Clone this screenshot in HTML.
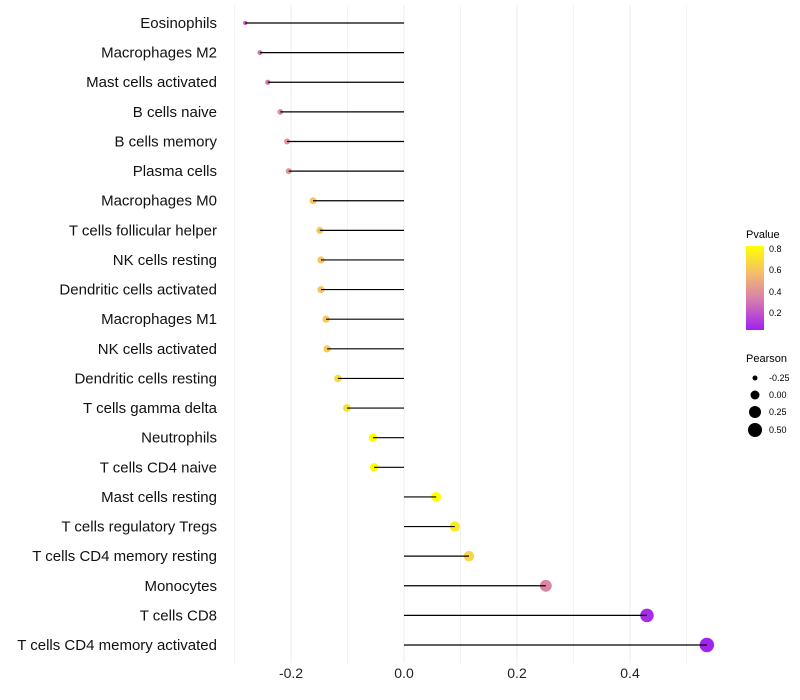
<!DOCTYPE html>
<html><head><meta charset="utf-8"><style>body{margin:0;background:#fff}svg{display:block;font-family:"Liberation Sans",sans-serif}</style></head>
<body>
<svg id="chart" width="800" height="700" viewBox="0 0 800 700">
<defs><linearGradient id="pg" x1="0" y1="1" x2="0" y2="0">
<stop offset="0" stop-color="#A020F0"/><stop offset="0.35" stop-color="#D67AB0"/><stop offset="0.68" stop-color="#F5BE6A"/><stop offset="1" stop-color="#FFFF00"/></linearGradient></defs>
<g id="grid"></g><g id="marks"></g><g id="labels"></g>
<g>
<text x="746" y="238" font-size="11">Pvalue</text>
<rect x="746" y="246" width="18" height="84" fill="url(#pg)"/>
<text x="769" y="252" font-size="9">0.8</text><text x="769" y="273" font-size="9">0.6</text>
<text x="769" y="295" font-size="9">0.4</text><text x="769" y="316" font-size="9">0.2</text>
</g>
<g>
<text x="746" y="362" font-size="11">Pearson</text>
<circle cx="755" cy="378" r="2.5"/><text x="769" y="381" font-size="9">-0.25</text>
<circle cx="755" cy="395" r="4.5"/><text x="769" y="398" font-size="9">0.00</text>
<circle cx="755" cy="412" r="6"/><text x="769" y="415" font-size="9">0.25</text>
<circle cx="755" cy="430" r="7"/><text x="769" y="433" font-size="9">0.50</text>
</g>
</svg>
<script>
const categories=["Eosinophils","Macrophages M2","Mast cells activated","B cells naive","B cells memory","Plasma cells","Macrophages M0","T cells follicular helper","NK cells resting","Dendritic cells activated","Macrophages M1","NK cells activated","Dendritic cells resting","T cells gamma delta","Neutrophils","T cells CD4 naive","Mast cells resting","T cells regulatory  Tregs ","T cells CD4 memory resting","Monocytes","T cells CD8","T cells CD4 memory activated"];
const pearson=[-0.281,-0.255,-0.241,-0.219,-0.207,-0.204,-0.161,-0.149,-0.147,-0.147,-0.138,-0.136,-0.117,-0.101,-0.055,-0.053,0.057,0.090,0.115,0.251,0.430,0.536];
const pvalue=[0.22,0.3,0.3,0.38,0.4,0.42,0.6,0.62,0.6,0.6,0.63,0.64,0.7,0.72,0.84,0.84,0.85,0.76,0.68,0.35,0.05,0.02];
const xTicks=[-0.2,0,0.2,0.4];
const xTickLabels=["-0.2","0.0","0.2","0.4"];
const NS="http://www.w3.org/2000/svg";
const x=v=>404+v*565;
const y=i=>23+i*29.62;
const stops=[[0,[160,32,240]],[0.35,[214,122,176]],[0.68,[245,190,106]],[1,[255,255,0]]];
function col(p){let t=Math.max(0,Math.min(1,(p-0.01)/0.84));for(let k=1;k<stops.length;k++){if(t<=stops[k][0]){const a=stops[k-1],b=stops[k],u=(t-a[0])/(b[0]-a[0]);return"rgb("+a[1].map((c,j)=>Math.round(c+(b[1][j]-c)*u)).join(",")+")";}}return"rgb(255,255,0)";}
const rad=v=>Math.sqrt(Math.max(2,21+58*v));
function mk(tag,attrs,parent){const e=document.createElementNS(NS,tag);for(const k in attrs)e.setAttribute(k,attrs[k]);document.getElementById(parent).appendChild(e);return e;}
for(let g=-3;g<=5;g++){const l=mk("line",{x1:x(g/10),x2:x(g/10),y1:5,y2:663,stroke:"#ebebeb","stroke-width":g%2==0?1:0.6},"grid");

}
xTicks.forEach((v,i)=>{const t=mk("text",{x:x(v),y:678,"font-size":14,"text-anchor":"middle",fill:"#222"},"labels");t.textContent=xTickLabels[i];

});
categories.forEach((c,i)=>{const t=mk("text",{x:217,y:y(i)+5,"font-size":15,"text-anchor":"end",fill:"#111"},"labels");t.textContent=c;


const p=mk("circle",{cx:x(pearson[i]),cy:y(i),r:rad(pearson[i]),fill:col(pvalue[i])},"marks");


const s=mk("line",{x1:x(0),x2:x(pearson[i]),y1:y(i),y2:y(i),stroke:"#000","stroke-width":1.2},"marks");

});
</script>
</body></html>
